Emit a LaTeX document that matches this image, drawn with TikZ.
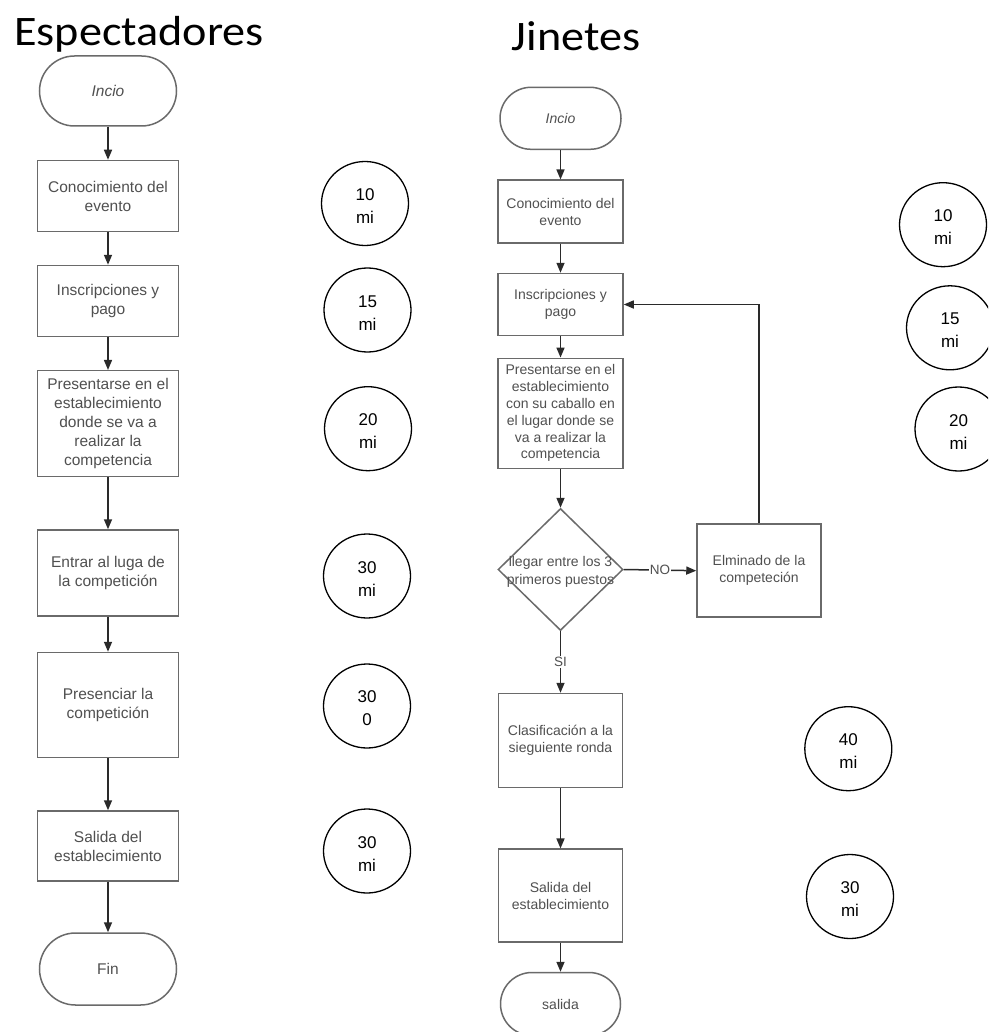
\documentclass[tikz,border=0pt]{standalone}
\usepackage{fontspec}
\setmainfont{Liberation Sans}
\newfontfamily\titlefont{Carlito}
\usetikzlibrary{shapes.geometric,shapes.misc,arrows.meta}
\definecolor{boxline}{HTML}{6A6A6A}
\definecolor{boxtext}{HTML}{505050}
\definecolor{arrowcol}{HTML}{2A2A2A}
\begin{document}
\begin{tikzpicture}[x=1pt,y=-1pt,
  lbox/.style={draw=boxline,line width=1.5pt,minimum width=141pt,align=center,text=boxtext,font=\fontsize{15.5}{19}\selectfont,inner sep=2pt},
  rbox/.style={draw=boxline,line width=1.5pt,minimum width=125pt,align=center,text=boxtext,font=\fontsize{14}{16.8}\selectfont,inner sep=2pt},
  lterm/.style={lbox,rounded rectangle},
  rterm/.style={rbox,rounded rectangle},
  timer/.style={draw=black,line width=1.3pt,ellipse,minimum width=87pt,minimum height=84pt,inner sep=0pt,align=center,font=\fontsize{17}{23}\selectfont},
  arr/.style={draw=arrowcol,line width=1.5pt,-{Triangle[length=10pt,width=8pt]}},
  lbl/.style={fill=white,text=boxtext,font=\fontsize{13.5}{16}\selectfont,inner sep=1pt},
  title/.style={font=\titlefont\fontsize{42}{50}\selectfont,anchor=base west,inner sep=0pt}
]
\useasboundingbox (0,0) rectangle (988,1032);
\fill[white] (0,0) rectangle (988,1032);
\clip (0,0) rectangle (988,1032);

% titles
\node[title] (t1) at (14,46) {\scalebox{1.1}[1]{Espectadores}};
\node[title] (t2) at (511.7,51) {\scalebox{1.1}[1]{Jinetes}};

% left column
\node[lterm,minimum height=70pt,font=\itshape\fontsize{15.5}{19}\selectfont] (L0) at (108,91) {Incio};
\node[lbox,minimum height=71pt] (L1) at (108,196) {Conocimiento del\\evento};
\node[lbox,minimum height=71pt] (L2) at (108,301) {Inscripciones y\\pago};
\node[lbox,minimum height=106pt] (L3) at (108,423.7) {Presentarse en el\\establecimiento\\donde se va a\\realizar la\\competencia};
\node[lbox,minimum height=86pt] (L4) at (108,573) {Entrar al luga de\\la competición};
\node[lbox,minimum height=105pt] (L5) at (108,705) {Presenciar la\\competición};
\node[lbox,minimum height=70pt] (L6) at (108,846) {Salida del\\establecimiento};
\node[lterm,minimum height=72pt] (L7) at (108,969) {Fin};

\draw[arr] (L0.south) -- (L1.north);
\draw[arr] (L1.south) -- (L2.north);
\draw[arr] (L2.south) -- (L3.north);
\draw[arr] (L3.south) -- (L4.north);
\draw[arr] (L4.south) -- (L5.north);
\draw[arr] (L5.south) -- (L6.north);
\draw[arr] (L6.south) -- (L7.north);

% left timers
\node[timer] (C1) at (365,203.5) {\rule{0pt}{17pt}10\\mi};
\node[timer] (C2) at (367.5,310) {\rule{0pt}{17pt}15\\mi};
\node[timer] (C3) at (368,428.7) {\rule{0pt}{17pt}20\\mi};
\node[timer] (C4) at (367,576) {\rule{0pt}{17pt}30\\mi};
\node[timer] (C5) at (367,706) {\rule{0pt}{17pt}30\\0};
\node[timer] (C6) at (367,851) {\rule{0pt}{17pt}30\\mi};

% right column
\node[rterm,minimum height=62pt,font=\itshape\fontsize{14}{16.8}\selectfont] (R0) at (560.5,118.3) {Incio};
\node[rbox,minimum height=63pt] (R1) at (560.5,211.7) {Conocimiento del\\evento};
\node[rbox,minimum height=62pt] (R2) at (560.5,304.5) {Inscripciones y\\pago};
\node[rbox,minimum height=110pt] (R3) at (560.5,413.3) {Presentarse en el\\establecimiento\\con su caballo en\\el lugar donde se\\va a realizar la\\competencia};
\node[diamond,draw=boxline,line width=1.5pt,minimum width=125pt,minimum height=122pt,inner sep=0pt,
  label={[text=boxtext,align=center,font=\fontsize{14}{17.6}\selectfont,yshift=-2.5pt]center:llegar entre los 3\\primeros puestos}] (D) at (560.5,569.5) {};
\node[rbox,minimum width=124pt,minimum height=93pt] (E) at (759,570.7) {Elminado de la\\competeción};
\node[rbox,minimum width=124pt,minimum height=94pt] (R4) at (560.5,740.5) {Clasificación a la\\sieguiente ronda};
\node[rbox,minimum width=124pt,minimum height=93pt] (R5) at (560.5,895.7) {Salida del\\establecimiento};
\node[rterm,minimum width=124pt,minimum height=63pt] (R6) at (560.5,1004) {salida};

\draw[arr] (R0.south) -- (R1.north);
\draw[arr] (R1.south) -- (R2.north);
\draw[arr] (R2.south) -- (R3.north);
\draw[arr] (R3.south) -- (D.north);
\draw[arr] (D.east) -- node[lbl] {NO} (E.west);
\draw[arr] (E.north) |- (R2.east);
\draw[arr] (D.south) -- node[lbl] {SI} (R4.north);
\draw[arr] (R4.south) -- (R5.north);
\draw[arr] (R5.south) -- (R6.north);

% right timers
\node[timer] (D1) at (943,224.7) {\rule{0pt}{17pt}10\\mi};
\node[timer] (D2) at (950,327.8) {\rule{0pt}{17pt}15\\mi};
\node[timer] (D3) at (958.5,429) {\rule{0pt}{17pt}20\\mi};
\node[timer] (D4) at (848.3,748.7) {\rule{0pt}{17pt}40\\mi};
\node[timer] (D5) at (850,896.5) {\rule{0pt}{17pt}30\\mi};
\end{tikzpicture}
\end{document}
